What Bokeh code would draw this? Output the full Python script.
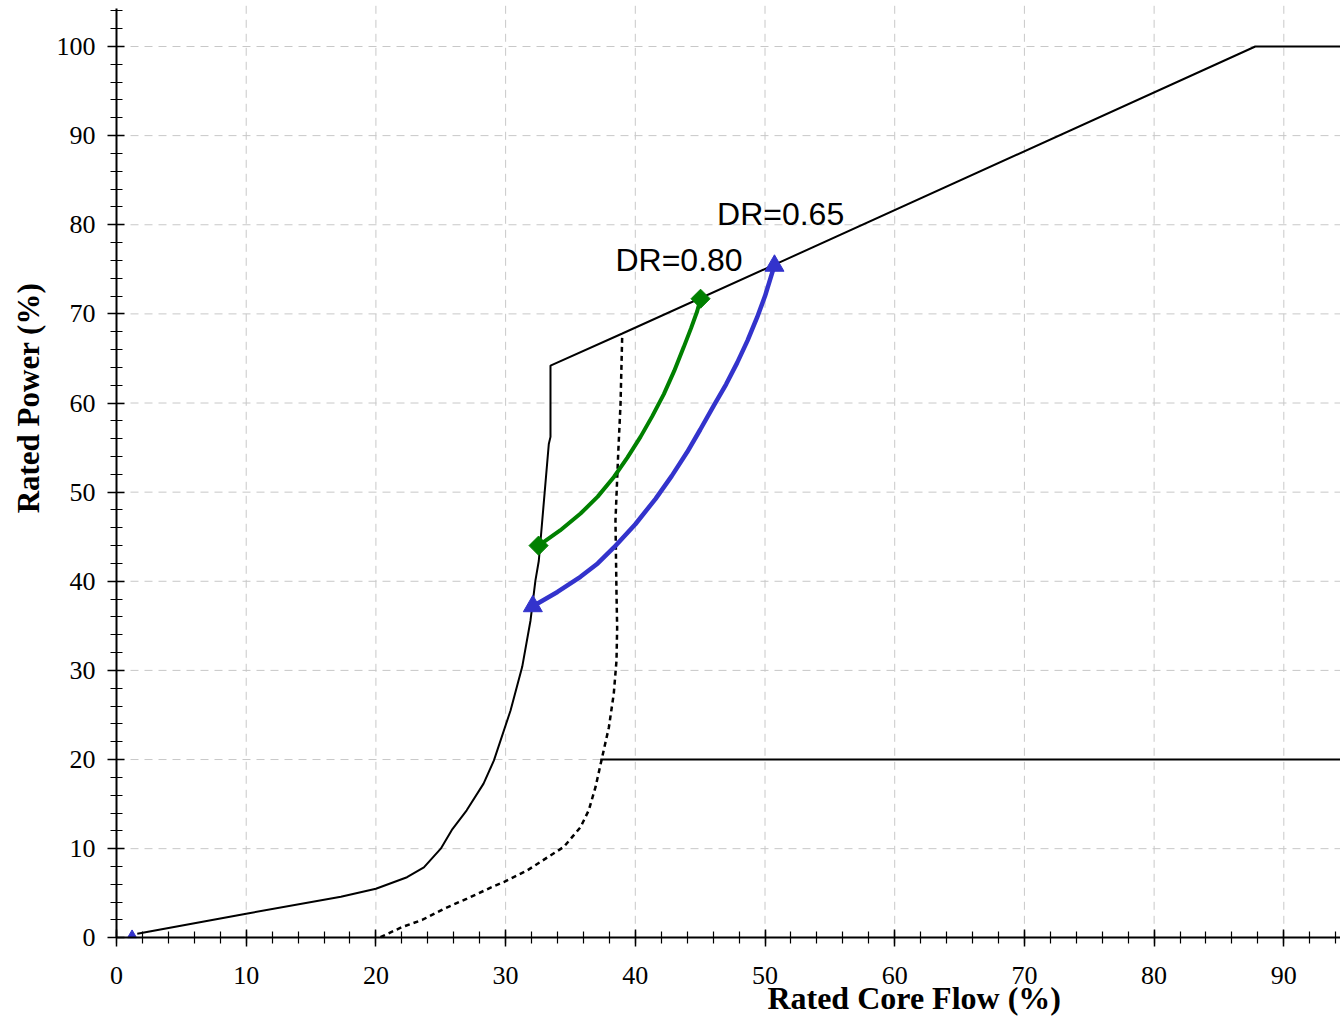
from bokeh.plotting import figure
from bokeh.models import Label, Range1d, FixedTicker
from bokeh.embed import file_html
from bokeh.resources import INLINE
from math import pi

# Operating map boundary (rated core flow %, rated power %)
bound_x = [1.6, 10.0, 17.3, 20.0, 22.4, 23.7, 25.0, 25.9, 27.0, 28.3, 29.1, 30.38, 31.28,
           31.92, 32.3, 32.56, 33.33, 33.46, 33.46, 39.0, 50.7, 87.8, 100.0]
bound_y = [0.45, 2.7, 4.6, 5.5, 6.8, 7.9, 10.0, 12.2, 14.3, 17.3, 19.9, 25.5, 30.4,
           35.6, 40.1, 42.3, 55.4, 56.2, 64.2, 67.8, 75.5, 100.0, 100.0]

# Lower power limit line
low_x = [37.3, 100.0]
low_y = [20.0, 20.0]

# Dotted curve
dot_x = [20.35, 22.0, 23.56, 25.24, 27.03, 28.96, 29.86, 31.66, 33.2, 34.49, 35.77, 36.41,
         36.93, 37.45, 37.96, 38.34, 38.55, 38.6, 38.55, 38.47, 38.68, 38.86, 38.99]
dot_y = [0.07, 1.2, 2.0, 3.25, 4.4, 5.7, 6.25, 7.55, 9.0, 10.2, 12.4, 14.3,
         16.9, 20.3, 23.6, 27.4, 31.1, 34.8, 38.6, 46.8, 54.3, 59.9, 67.6]

# DR = 0.80 path (green)
g_x = [32.54, 34.2, 35.78, 37.1, 38.35, 39.4, 40.4, 41.3, 42.2, 43.0, 43.74, 44.3, 44.77, 45.03]
g_y = [44.0, 45.7, 47.6, 49.5, 51.7, 53.9, 56.2, 58.5, 61.0, 63.6, 66.3, 68.4, 70.3, 71.7]

# DR = 0.65 path (blue)
b_x = [32.1, 34.0, 35.77, 37.1, 38.35, 40.0, 41.56, 42.8, 44.0, 45.0, 46.05, 47.0, 47.85,
       48.65, 49.39, 50.0, 50.55, 50.73]
b_y = [37.2, 38.8, 40.5, 42.0, 43.8, 46.4, 49.25, 51.8, 54.5, 57.0, 59.7, 62.1, 64.5,
       67.0, 69.6, 72.0, 74.6, 75.4]

x_ticks = [0, 10, 20, 30, 40, 50, 60, 70, 80, 90]
y_ticks = [0, 10, 20, 30, 40, 50, 60, 70, 80, 90, 100]
minor_vals = list(range(0, 105, 2))

X_END = 94.37
Y_TOP = 104.3

GREEN = "#008000"
BLUE = "#3333CC"

p = figure(width=1340, height=1016, output_backend="svg", toolbar_location=None,
           x_range=Range1d(-8.944, X_END), y_range=Range1d(-8.83, 105.16),
           min_border=0)
p.outline_line_color = None
p.background_fill_color = "white"
p.xgrid.visible = False
p.ygrid.visible = False

for ax, ticks, bnds in ((p.xaxis, x_ticks, (0, X_END)), (p.yaxis, y_ticks, (0, Y_TOP))):
    ax.fixed_location = 0
    ax.bounds = bnds
    ax.ticker = FixedTicker(ticks=ticks, minor_ticks=minor_vals)
    ax.axis_line_width = 2
    ax.axis_line_color = "black"
    ax.major_tick_in = 8
    ax.major_tick_out = 9
    ax.minor_tick_in = 6
    ax.minor_tick_out = 6
    ax.major_tick_line_width = 1.5
    ax.minor_tick_line_width = 1.2
    ax.major_tick_line_color = "black"
    ax.minor_tick_line_color = "black"
    ax.major_label_text_font = "Liberation Serif"
    ax.major_label_text_font_size = "26px"
    ax.major_label_text_color = "black"
p.xaxis.major_label_standoff = 20
p.yaxis.major_label_standoff = 12

# dashed grid
gx = x_ticks[1:]
p.segment(x0=gx, y0=[0] * len(gx), x1=gx, y1=[Y_TOP + 1] * len(gx),
          line_color="#c8c8c8", line_dash="8 6", line_width=1)
gy = y_ticks[1:]
p.segment(x0=[0] * len(gy), y0=gy, x1=[X_END + 1] * len(gy), y1=gy,
          line_color="#c8c8c8", line_dash="8 6", line_width=1)

p.line(bound_x, bound_y, line_color="black", line_width=2)
p.line(low_x, low_y, line_color="black", line_width=2)
p.line(dot_x, dot_y, line_color="black", line_width=2.5, line_dash="5 4")

p.line(g_x, g_y, line_color=GREEN, line_width=4)
p.scatter([g_x[0], g_x[-1]], [g_y[0], g_y[-1]], marker="square", angle=pi / 4, size=13.5,
          fill_color=GREEN, line_color=GREEN)

p.line(b_x, b_y, line_color=BLUE, line_width=4.5)
p.scatter([b_x[0], b_x[-1]], [b_y[0], b_y[-1]], marker="triangle", size=19,
          fill_color=BLUE, line_color=BLUE)

# small blue mark near the origin
p.scatter([1.2], [0.3], marker="triangle", size=9, fill_color=BLUE, line_color=BLUE)

p.add_layout(Label(x=38.47, y=76.0, text="DR=0.80", text_font="Liberation Sans",
                   text_font_size="32px", text_color="black", text_baseline="middle"))
p.add_layout(Label(x=46.3, y=81.2, text="DR=0.65", text_font="Liberation Sans",
                   text_font_size="32px", text_color="black", text_baseline="middle"))

p.add_layout(Label(x=61.5, y=-6.7, text="Rated Core Flow (%)", text_font="Liberation Serif",
                   text_font_style="bold", text_font_size="32px", text_align="center",
                   text_baseline="middle", text_color="black"))
p.add_layout(Label(x=-6.82, y=60.56, text="Rated Power (%)", text_font="Liberation Serif",
                   text_font_style="bold", text_font_size="31px", text_align="center",
                   text_baseline="middle", angle=pi / 2, text_color="black"))

open("out.html", "w").write(file_html(p, INLINE))
